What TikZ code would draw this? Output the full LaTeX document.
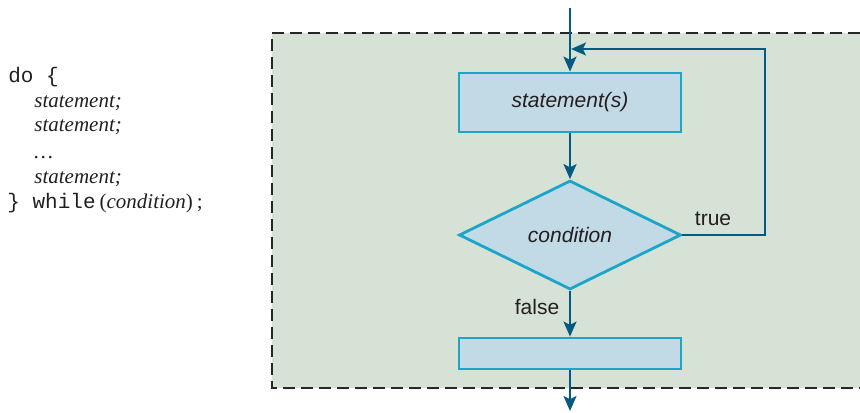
\documentclass[tikz,border=0pt]{standalone}
\usepackage{fontspec}
\setmainfont{Liberation Serif}
\setmonofont{Liberation Mono}
\newfontfamily\diagsans{Liberation Sans}
\usetikzlibrary{shapes.geometric,arrows.meta}
\definecolor{bgfill}{HTML}{D7E2D6}
\definecolor{boxfill}{HTML}{C2DAE6}
\definecolor{boxline}{HTML}{1DA5C9}
\definecolor{arrcol}{HTML}{045A80}
\definecolor{txtcol}{HTML}{231F20}
\begin{document}
\begin{tikzpicture}[x=0.5pt,y=-0.5pt,
  stepbox/.style={draw=boxline,fill=boxfill,line width=1.4pt,minimum width=111pt,inner sep=0pt,font=\diagsans\itshape\fontsize{10.5}{12}\selectfont,text=txtcol},
  decbox/.style={diamond,draw=boxline,fill=boxfill,line width=1.4pt,minimum width=111pt,minimum height=54.5pt,inner sep=0pt,font=\diagsans\itshape\fontsize{10.5}{12}\selectfont,text=txtcol},
  arr/.style={draw=arrcol,line width=1.1pt,-{Stealth[length=7.5pt,width=6.5pt,inset=1.6pt]}},
  lbl/.style={font=\diagsans\fontsize{10.5}{12}\selectfont,text=txtcol,inner sep=0pt},
  code/.style={anchor=base west,inner sep=0pt,font=\fontsize{10.5}{12}\selectfont,text=txtcol},
  frame/.style={draw=black!85,line width=1.3pt,dash pattern=on 6pt off 3pt}]
\useasboundingbox (0,0) rectangle (860,412);
\fill[bgfill] (272,33) rectangle (860,388);
\draw[frame] (860,33) -- (272,33) -- (272,388) -- (860,388);
% code
\node[code] (c1) at (8,82) {\ttfamily do \{};
\node[code] (c2) at (34,107) {\itshape statement;};
\node[code] (c3) at (34,131) {\itshape statement;};
\node[code] (c4) at (34,158) {\itshape \dots};
\node[code] (c5) at (34,183) {\itshape statement;};
\node[code] (c6) at (7,208) {{\ttfamily \} while}\hspace{2pt}(\textit{condition})\hspace{2pt};};
% flowchart
\coordinate (top) at (570,8);
\node[stepbox,minimum height=29.5pt] (s1) at (570,102.5) {statement(s)};
\node[decbox] (d) at (570,235) {condition};
\node[stepbox,minimum height=15.5pt] (s2) at (570,353.5) {};
\coordinate (bot) at (570,411);
\coordinate (loopend) at (571,49);
\draw[arr] (top) -- (s1.north);
\draw[arr] (s1.south) -- (d.north);
\draw[arr] (d.south) -- (s2.north);
\draw[arr] (s2.south) -- (bot);
\draw[arr] (d.east) -| (765,49) -- (loopend);
\node[lbl] (t) at (713,219) {true};
\node[lbl] (f) at (537,307) {false};
\end{tikzpicture}
\end{document}
